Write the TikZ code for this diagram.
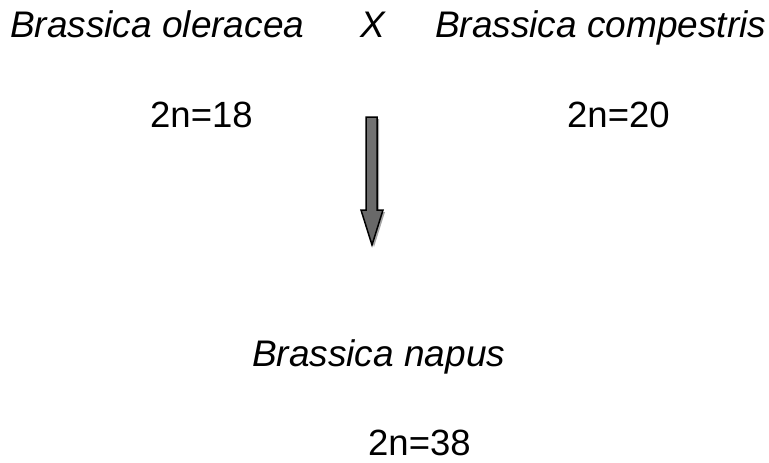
\documentclass[tikz,border=0pt]{standalone}
\usepackage{fontspec}
\setmainfont{Liberation Sans}
\begin{document}
\begin{tikzpicture}[x=1pt,y=-1pt,
  lbl/.style={anchor=base west,inner sep=0pt,font=\fontsize{36.5}{40}\selectfont},
  ilbl/.style={lbl,font=\fontsize{37}{40}\selectfont\itshape}]
\useasboundingbox (0,0) rectangle (769,463);
\node[ilbl] (p1) at (10,37) {Brassica oleracea};
\node[ilbl] (x) at (360,37) {X};
\node[ilbl] (p2) at (435,37) {Brassica compestris};
\node[lbl] (c1) at (150,127) {2n=18};
\node[lbl] (c2) at (567,127) {2n=20};
\node[ilbl] (h) at (252,366) {Brassica napus};
\node[lbl] (c3) at (368,455) {2n=38};
% block arrow with shadow
\fill[black!35] (368,119) -- (379,119) -- (379,212) -- (385,212) -- (374,247) -- (363,212) -- (368,212) -- cycle;
\shade[top color=black!55, middle color=black, bottom color=black!60, draw=black, line width=1.5pt, line join=miter]
  (366,117) -- (377,117) -- (377,210) -- (383,210) -- (372,245) -- (361,210) -- (366,210) -- cycle;
\end{tikzpicture}
\end{document}
